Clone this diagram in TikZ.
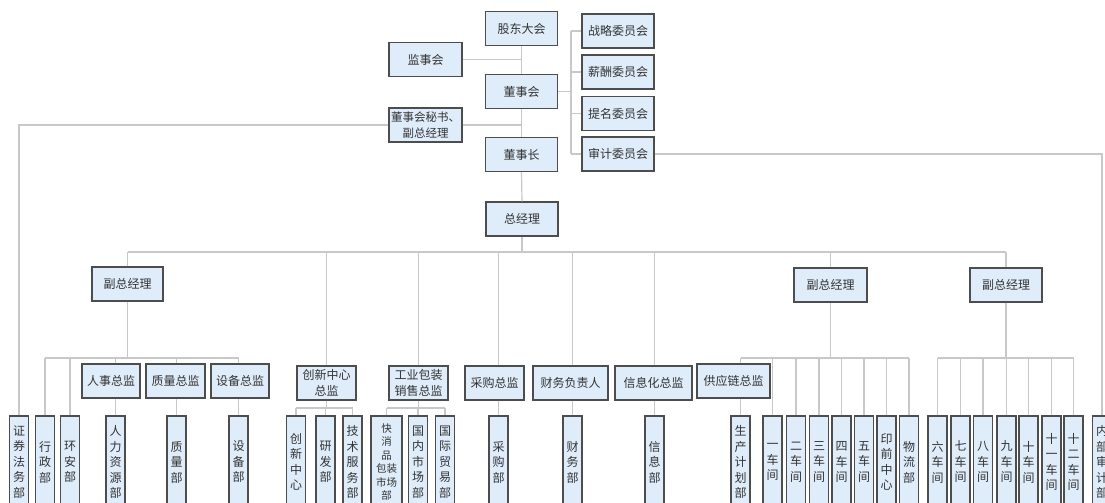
\documentclass[tikz,border=0pt]{standalone}
\usepackage{fontspec}
\newfontfamily\cjk{Noto Sans CJK SC}
\definecolor{boxfill}{HTML}{DFECFA}
\definecolor{boxline}{HTML}{4D4D4D}
\definecolor{connline}{HTML}{C8C8C8}
\definecolor{txt}{HTML}{333333}
\begin{document}
\begin{tikzpicture}[x=1pt,y=-1pt,
  box/.style={draw=boxline, line width=1.2pt, fill=boxfill, inner sep=0pt, align=center, text=txt, font=\cjk\fontsize{12}{15.5}\selectfont},
  hbox/.style={box, minimum width=72pt, minimum height=34pt},
  vbox/.style={box, minimum width=19pt, minimum height=92pt},
  conn/.style={draw=connline, line width=1.2pt}]
\useasboundingbox (0,0) rectangle (1105,503);
\clip (0,0) rectangle (1105,503);

% top level
\node[hbox] (gd) at (521.5,28.5) {股东大会};
\node[hbox, minimum width=73pt] (jsh) at (425.5,59.5) {监事会};
\node[hbox] (dsh) at (521.5,91.5) {董事会};
\node[hbox, minimum width=73pt, font=\cjk\fontsize{11.5}{15.5}\selectfont] (ms) at (425.5,125) {董事会秘书、\\副总经理};
\node[hbox] (dsz) at (521.5,154.5) {董事长};
\node[hbox] (zlw) at (618,31) {战略委员会};
\node[hbox] (xcw) at (618,72) {薪酬委员会};
\node[hbox] (tmw) at (618,113.5) {提名委员会};
\node[hbox] (sjw) at (618,154) {审计委员会};
\node[hbox] (zjl) at (522,219) {总经理};

% level 2
\node[hbox, minimum width=71pt] (fz1) at (127.5,284) {副总经理};
\node[hbox, minimum width=73pt] (fz2) at (830.5,285) {副总经理};
\node[hbox] (fz3) at (1006,285) {副总经理};

% level 3
\node[hbox, minimum width=58pt] (rszj) at (111,381) {人事总监};
\node[hbox, minimum width=59pt] (zlzj) at (175.5,381) {质量总监};
\node[hbox, minimum width=58pt] (sbzj) at (240,381) {设备总监};
\node[hbox, minimum width=59pt] (cxzj) at (326.5,383) {创新中心\\总监};
\node[hbox, minimum width=59pt] (gyzj) at (418.5,383) {工业包装\\销售总监};
\node[hbox, minimum width=59pt] (cgzj) at (494.5,383) {采购总监};
\node[hbox, minimum width=75pt] (cwfz) at (570.5,383) {财务负责人};
\node[hbox, minimum width=77pt] (xxzj) at (653.5,383) {信息化总监};
\node[hbox, minimum width=73pt] (gylzj) at (733.5,381) {供应链总监};

% bottom departments
\node[vbox] (zqfw) at (19,462) {证\\券\\法\\务\\部};
\node[vbox] (xzb) at (45,462) {行\\政\\部};
\node[vbox] (hab) at (70,462) {环\\安\\部};
\node[vbox] (rlb) at (115.5,462) {人\\力\\资\\源\\部};
\node[vbox] (zlb) at (176.5,462) {质\\量\\部};
\node[vbox] (sbb) at (238.5,462) {设\\备\\部};
\node[vbox] (cxb) at (296,462) {创\\新\\中\\心};
\node[vbox] (yfb) at (325.5,462) {研\\发\\部};
\node[vbox] (jsb) at (352.5,462) {技\\术\\服\\务\\部};
\node[vbox, minimum width=31pt, font=\cjk\fontsize{10.5}{13.4}\selectfont] (kxb) at (386.5,462) {快\\消\\品\\包装\\市场\\部};
\node[vbox] (gnb) at (418,462) {国\\内\\市\\场\\部};
\node[vbox] (gjb) at (445,462) {国\\际\\贸\\易\\部};
\node[vbox] (cgb) at (498.5,462) {采\\购\\部};
\node[vbox] (cwb) at (572.5,462) {财\\务\\部};
\node[vbox] (xxb) at (654.5,462) {信\\息\\部};
\node[vbox] (scb) at (740.5,462) {生\\产\\计\\划\\部};
\node[vbox] (cj1) at (772.5,462) {一\\车\\间};
\node[vbox] (cj2) at (796,462) {二\\车\\间};
\node[vbox] (cj3) at (819,462) {三\\车\\间};
\node[vbox] (cj4) at (841.5,462) {四\\车\\间};
\node[vbox] (cj5) at (864,462) {五\\车\\间};
\node[vbox] (yqb) at (886.5,462) {印\\前\\中\\心};
\node[vbox] (wlb) at (909,462) {物\\流\\部};
\node[vbox] (cj6) at (937.5,462) {六\\车\\间};
\node[vbox] (cj7) at (960.5,462) {七\\车\\间};
\node[vbox] (cj8) at (983,462) {八\\车\\间};
\node[vbox] (cj9) at (1006.5,462) {九\\车\\间};
\node[vbox] (cj10) at (1028.5,462) {十\\车\\间};
\node[vbox] (cj11) at (1051.5,462) {十\\一\\车\\间};
\node[vbox] (cj12) at (1073.5,462) {十\\二\\车\\间};
\node[vbox] (nbsj) at (1102,462) {内\\部\\审\\计\\部};

% top connectors
\draw[conn] (gd.south) -- (dsh.north);
\draw[conn] (dsh.south) -- (dsz.north);
\draw[conn] (dsz.south) -- (zjl.north);
\draw[conn] (jsh.east) -- (jsh.east -| gd.south);
\draw[conn] (ms.east) -- (ms.east -| gd.south);
\draw[conn] (ms.west) -| (zqfw.north);
\coordinate (cb) at (571,0);
\draw[conn] (dsh.east) -- (dsh.east -| cb);
\draw[conn] (zlw.west -| cb) -- (sjw.west -| cb);
\foreach \n in {zlw,xcw,tmw,sjw} \draw[conn] (\n.west) -- (\n.west -| cb);
\draw[conn] (sjw.east) -| (nbsj.north);

% general manager bus
\coordinate (b1) at (0,252);
\draw[conn] (zjl.south) -- (zjl.south |- b1);
\draw[conn] (fz1.north |- b1) -- (fz3.north |- b1);
\foreach \n in {fz1,cxzj,gyzj,fz2,fz3} \draw[conn] (\n.north) -- (\n.north |- b1);
\foreach \a/\b in {cgzj/cgb,cwfz/cwb,xxzj/xxb} {
  \draw[conn] (\a.north -| \b.north) -- (\b.north |- b1);
  \draw[conn] (\a.south -| \b.north) -- (\b.north);
}

% vice GM 1 group
\coordinate (b2) at (0,358);
\draw[conn] (fz1.south) -- (fz1.south |- b2);
\draw[conn] (xzb.north |- b2) -- (sbb.north |- b2);
\foreach \n in {xzb,hab} \draw[conn] (\n.north) -- (\n.north |- b2);
\foreach \a/\b in {rszj/rlb,zlzj/zlb,sbzj/sbb} {
  \draw[conn] (\a.north -| \b.north) -- (\b.north |- b2);
  \draw[conn] (\a.south -| \b.north) -- (\b.north);
}

% innovation and packaging groups
\coordinate (b3) at (0,408);
\draw[conn] (cxzj.south) -- (cxzj.south |- b3);
\draw[conn] (cxb.north |- b3) -- (jsb.north |- b3);
\foreach \n in {cxb,yfb,jsb} \draw[conn] (\n.north) -- (\n.north |- b3);
\draw[conn] (gyzj.south) -- (gyzj.south |- b3);
\draw[conn] (kxb.north |- b3) -- (gjb.north |- b3);
\foreach \n in {kxb,gnb,gjb} \draw[conn] (\n.north) -- (\n.north |- b3);

% vice GM 2 group
\draw[conn] (fz2.south) -- (fz2.south |- b2);
\draw[conn] (scb.north |- b2) -- (wlb.north |- b2);
\draw[conn] (gylzj.north -| scb.north) -- (scb.north |- b2);
\draw[conn] (gylzj.south -| scb.north) -- (scb.north);
\foreach \n in {cj1,cj2,cj3,cj4,cj5,yqb,wlb} \draw[conn] (\n.north) -- (\n.north |- b2);

% vice GM 3 group
\draw[conn] (fz3.south) -- (fz3.south |- b2);
\draw[conn] (cj6.north |- b2) -- (cj12.north |- b2);
\foreach \n in {cj6,cj7,cj8,cj9,cj10,cj11,cj12} \draw[conn] (\n.north) -- (\n.north |- b2);
\end{tikzpicture}
\end{document}
